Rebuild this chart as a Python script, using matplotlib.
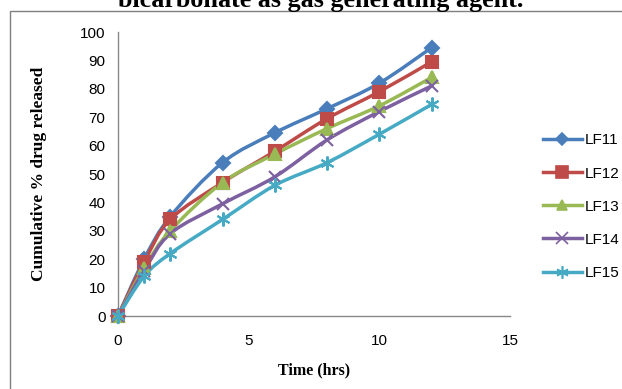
import numpy as np
import matplotlib
matplotlib.use("Agg")
import matplotlib.pyplot as plt
from matplotlib.path import Path
from matplotlib.patches import PathPatch, Rectangle

time_hrs = [0, 1, 2, 4, 6, 8, 10, 12]
lf11 = [0, 20, 35, 54, 64.5, 73, 82, 94.5]
lf12 = [0, 19, 34, 47, 58, 69.5, 79, 89.5]
lf13 = [0, 17, 30, 47, 57, 66, 74, 84]
lf14 = [0, 16, 29, 39.5, 49, 62, 72, 81]
lf15 = [0, 14, 22, 34, 46, 54, 64, 74.5]
series_names = ["LF11", "LF12", "LF13", "LF14", "LF15"]
x_ticks = [0, 5, 10, 15]
y_ticks = list(range(0, 101, 10))

colors = ["#4A7EBB", "#BE4B48", "#98B954", "#7D60A0", "#46AAC5"]
markers = ["D", "s", "^", "x", (6, 2, 0)]
msizes = [7, 9, 8, 9, 10]


def smooth_path(x, y, tension=1 / 6):
    # Catmull-Rom style bezier through the points (like Excel's smoothed line)
    x = np.asarray(x, float)
    y = np.asarray(y, float)
    verts = [(x[0], y[0])]
    codes = [Path.MOVETO]
    n = len(x)
    for i in range(n - 1):
        p0 = i - 1 if i > 0 else i
        p3 = i + 2 if i + 2 < n else i + 1
        c1 = (x[i] + (x[i + 1] - x[p0]) * tension, y[i] + (y[i + 1] - y[p0]) * tension)
        c2 = (x[i + 1] - (x[p3] - x[i]) * tension, y[i + 1] - (y[p3] - y[i]) * tension)
        verts += [c1, c2, (x[i + 1], y[i + 1])]
        codes += [Path.CURVE4] * 3
    return Path(verts, codes)


fig = plt.figure(figsize=(6.22, 3.89), dpi=100)
ax = fig.add_axes([118 / 622, 1 - 316 / 389, 392 / 622, 284 / 389])

# outer frame (left and top edges visible)
fig.patches.append(Rectangle((10 / 622, -0.1), 1.2, 1.1 - 11 / 389, transform=fig.transFigure,
                             fill=False, edgecolor="#7f7f7f", linewidth=1.0))

# title cut off at the top, as in the source page
fig.text(0.515, 1 - 7 / 389, "bicarbonate as gas generating agent.", ha="center", va="baseline",
         fontsize=18.8, fontweight="bold", family="Liberation Serif")

all_series = [lf11, lf12, lf13, lf14, lf15]
for name, vals, c, m, ms in zip(series_names, all_series, colors, markers, msizes):
    ax.add_patch(PathPatch(smooth_path(time_hrs, vals), facecolor="none", edgecolor=c,
                           linewidth=2.5, zorder=2))
    ax.plot(time_hrs, vals, linestyle="none", marker=m, markersize=ms, color=c,
            markeredgecolor=c, markeredgewidth=1.5, clip_on=False, zorder=3)
    ax.plot([], [], color=c, linewidth=2.5, marker=m, markersize=ms - 1, markeredgewidth=1.2,
            label=name)

ax.set_xlim(0, 15)
ax.set_ylim(0, 100)
ax.set_xticks(x_ticks)
ax.set_yticks(y_ticks)
for s in ["top", "right"]:
    ax.spines[s].set_visible(False)
for s in ["left", "bottom"]:
    ax.spines[s].set_color("#888888")
    ax.spines[s].set_linewidth(1.0)
ax.tick_params(axis="y", length=0, labelsize=11, pad=9)
ax.tick_params(axis="x", length=0, labelsize=11, pad=13)
for lab in ax.get_xticklabels() + ax.get_yticklabels():
    lab.set_family("Liberation Sans")

ax.set_xlabel("Time (hrs)", fontsize=11.5, fontweight="bold", family="Liberation Serif", labelpad=10)
ax.set_ylabel("Cumulative % drug released", fontsize=12.5, fontweight="bold",
              family="Liberation Serif")
ax.yaxis.set_label_coords(-0.18, 0.5)

ax.legend(loc="center left", bbox_to_anchor=(1.05, 0.385), frameon=False,
          handlelength=2.5, handletextpad=0.2, labelspacing=1.25,
          prop={"family": "Liberation Sans", "size": 11})

fig.savefig("out.png", dpi=100)
